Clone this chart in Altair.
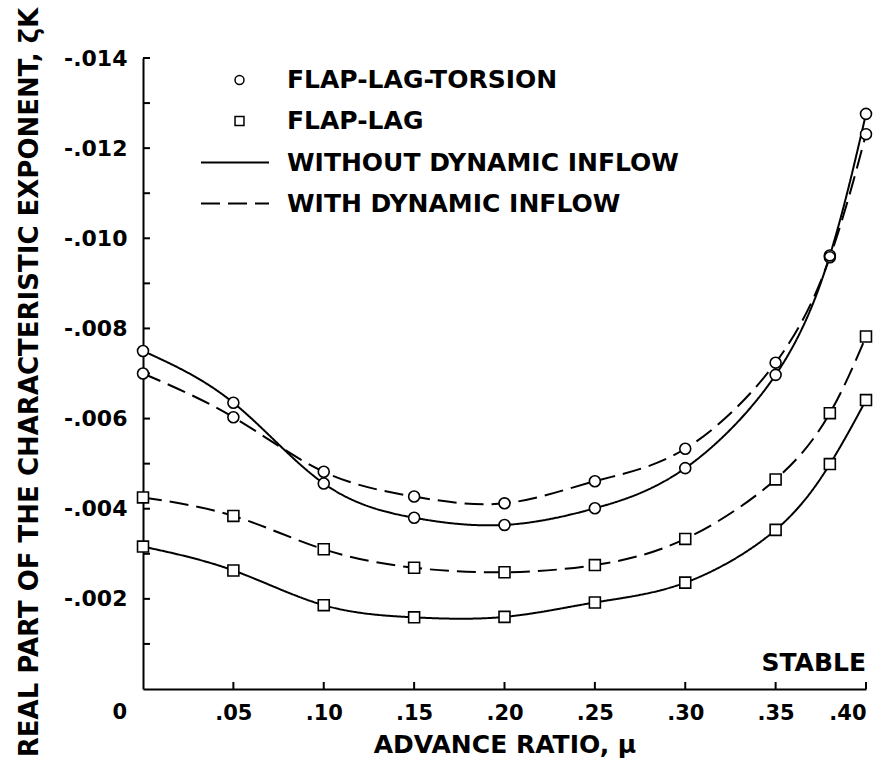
import altair as alt
import pandas as pd

# ---- data ----
mu = [0.0, 0.05, 0.10, 0.15, 0.20, 0.25, 0.30, 0.35, 0.38, 0.40]
flt_without = [-0.00750, -0.00635, -0.00456, -0.00380, -0.00364, -0.00401, -0.00490, -0.00697, -0.00962, -0.01276]
flt_with = [-0.00700, -0.00603, -0.00482, -0.00427, -0.00412, -0.00461, -0.00533, -0.00724, -0.00958, -0.01231]
fl_without = [-0.00316, -0.00263, -0.00186, -0.00159, -0.00160, -0.00192, -0.00236, -0.00353, -0.00499, -0.00641]
fl_with = [-0.00425, -0.00384, -0.00310, -0.00269, -0.00259, -0.00275, -0.00333, -0.00465, -0.00612, -0.00782]

models = ["FLAP-LAG-TORSION", "FLAP-LAG"]
inflows = ["WITHOUT DYNAMIC INFLOW", "WITH DYNAMIC INFLOW"]

x_tick_values = [0.05, 0.10, 0.15, 0.20, 0.25, 0.30, 0.35, 0.40]
y_tick_values = [-0.001, -0.002, -0.003, -0.004, -0.005, -0.006, -0.007,
                 -0.008, -0.009, -0.010, -0.011, -0.012, -0.013, -0.014]
y_label_values = [-0.002, -0.004, -0.006, -0.008, -0.010, -0.012, -0.014]

rows = []
for model, inflow, vals in [
    (models[0], inflows[0], flt_without),
    (models[0], inflows[1], flt_with),
    (models[1], inflows[0], fl_without),
    (models[1], inflows[1], fl_with),
]:
    for m, v in zip(mu, vals):
        rows.append({"mu": m, "value": v, "model": model, "inflow": inflow,
                     "series": model + " / " + inflow})
df = pd.DataFrame(rows)

W, H = 723, 631
FONT = "DejaVu Sans"

x_enc = alt.X(
    "mu:Q",
    scale=alt.Scale(domain=[0, 0.4], nice=False, zero=False),
    axis=alt.Axis(
        title="ADVANCE RATIO, μ",
        values=x_tick_values,
        labelExpr="replace(format(datum.value, '.2f'), '0.', '.')",
        ticks=False, tickSize=0, grid=False,
        domainColor="black", domainWidth=2,
        labelFont=FONT, labelFontSize=21, labelFontWeight="bold", labelColor="black",
        labelPadding=13, labelBaseline="top",
        titleFont=FONT, titleFontSize=25, titleFontWeight="bold", titleColor="black",
        titleX=361.5, titleY=55, titleBaseline="middle", titleAlign="center",
    ),
)
y_enc = alt.Y(
    "value:Q",
    scale=alt.Scale(domain=[-0.014, 0], reverse=True, nice=False, zero=False),
    axis=alt.Axis(
        title="REAL PART OF THE CHARACTERISTIC EXPONENT, ζK",
        values=y_label_values,
        labelExpr="replace(format(abs(datum.value), '.3f'), '0.', '-.')",
        ticks=False, tickSize=0, grid=False,
        domainColor="black", domainWidth=2,
        labelFont=FONT, labelFontSize=22, labelFontWeight="bold", labelColor="black",
        labelPadding=16, labelAlign="right", labelBaseline="middle",
        titleFont=FONT, titleFontSize=26, titleFontWeight="bold", titleColor="black",
        titleAngle=270, titleX=-114, titleY=324, titleBaseline="middle", titleAlign="center",
    ),
)

ytick_df = pd.DataFrame({"value": y_tick_values})
xtick_df = pd.DataFrame({"mu": x_tick_values})

yticks = alt.Chart(ytick_df).mark_rule(color="black", strokeWidth=2).encode(
    y=y_enc, x=alt.value(0), x2=alt.value(7)
)
xticks = alt.Chart(xtick_df).mark_rule(color="black", strokeWidth=2).encode(
    x=x_enc, y=alt.value(H), y2=alt.value(H - 7)
)

lines = alt.Chart(df).mark_line(color="black", strokeWidth=2, interpolate="natural").encode(
    x=x_enc,
    y=y_enc,
    detail="series:N",
    strokeDash=alt.StrokeDash(
        "inflow:N",
        scale=alt.Scale(domain=inflows, range=[[1, 0], [19, 8]]),
        legend=alt.Legend(
            title=None, orient="none", legendX=74, legendY=86.5, padding=0,
            symbolType="M-2,0H2", symbolSize=1156, symbolStrokeWidth=2,
            symbolStrokeColor="black",
            labelFont=FONT, labelFontSize=25, labelFontWeight="bold", labelColor="black",
            labelOffset=34, rowPadding=10, labelLimit=600,
        ),
    ),
)

points_bg = alt.Chart(df).mark_point(
    filled=True, color="white", size=120, opacity=1
).encode(
    x=x_enc,
    y=y_enc,
    shape=alt.Shape("model:N", scale=alt.Scale(domain=models, range=["circle", "square"]),
                    legend=None),
)

points = alt.Chart(df).mark_point(
    filled=False, color="black", strokeWidth=1.6, size=120, opacity=1
).encode(
    x=x_enc,
    y=y_enc,
    shape=alt.Shape(
        "model:N",
        scale=alt.Scale(domain=models, range=["circle", "square"]),
        legend=alt.Legend(
            title=None, orient="none", legendX=84, legendY=9.5, padding=0,
            symbolSize=80, symbolStrokeWidth=1.5,
            symbolStrokeColor="black", symbolOpacity=1,
            labelFont=FONT, labelFontSize=25, labelFontWeight="bold", labelColor="black",
            labelOffset=35, rowPadding=15, labelLimit=600,
        ),
    ),
)

zero_df = pd.DataFrame({"mu": [0.0], "value": [0.0], "label": ["0"]})
zero_text = alt.Chart(zero_df).mark_text(
    font=FONT, fontSize=21, fontWeight="bold", color="black",
    align="right", baseline="middle", dx=-16, dy=24,
).encode(x=x_enc, y=y_enc, text="label:N")

stable_df = pd.DataFrame({"mu": [0.40], "value": [0.0], "label": ["STABLE"]})
stable_text = alt.Chart(stable_df).mark_text(
    font=FONT, fontSize=25, fontWeight="bold", color="black",
    align="right", baseline="middle", dy=-26,
).encode(x=x_enc, y=y_enc, text="label:N")

chart = alt.layer(
    yticks, xticks, lines, points_bg, points, zero_text, stable_text
).resolve_scale(shape="independent").resolve_legend(shape="independent").properties(
    width=W, height=H,
    autosize=alt.AutoSizeParams(type="none"),
    padding={"left": 143, "top": 58, "right": 20, "bottom": 74},
    background="white",
).configure_view(stroke=None)

chart.save("out.html", embed_options={"renderer": "svg", "actions": False})
